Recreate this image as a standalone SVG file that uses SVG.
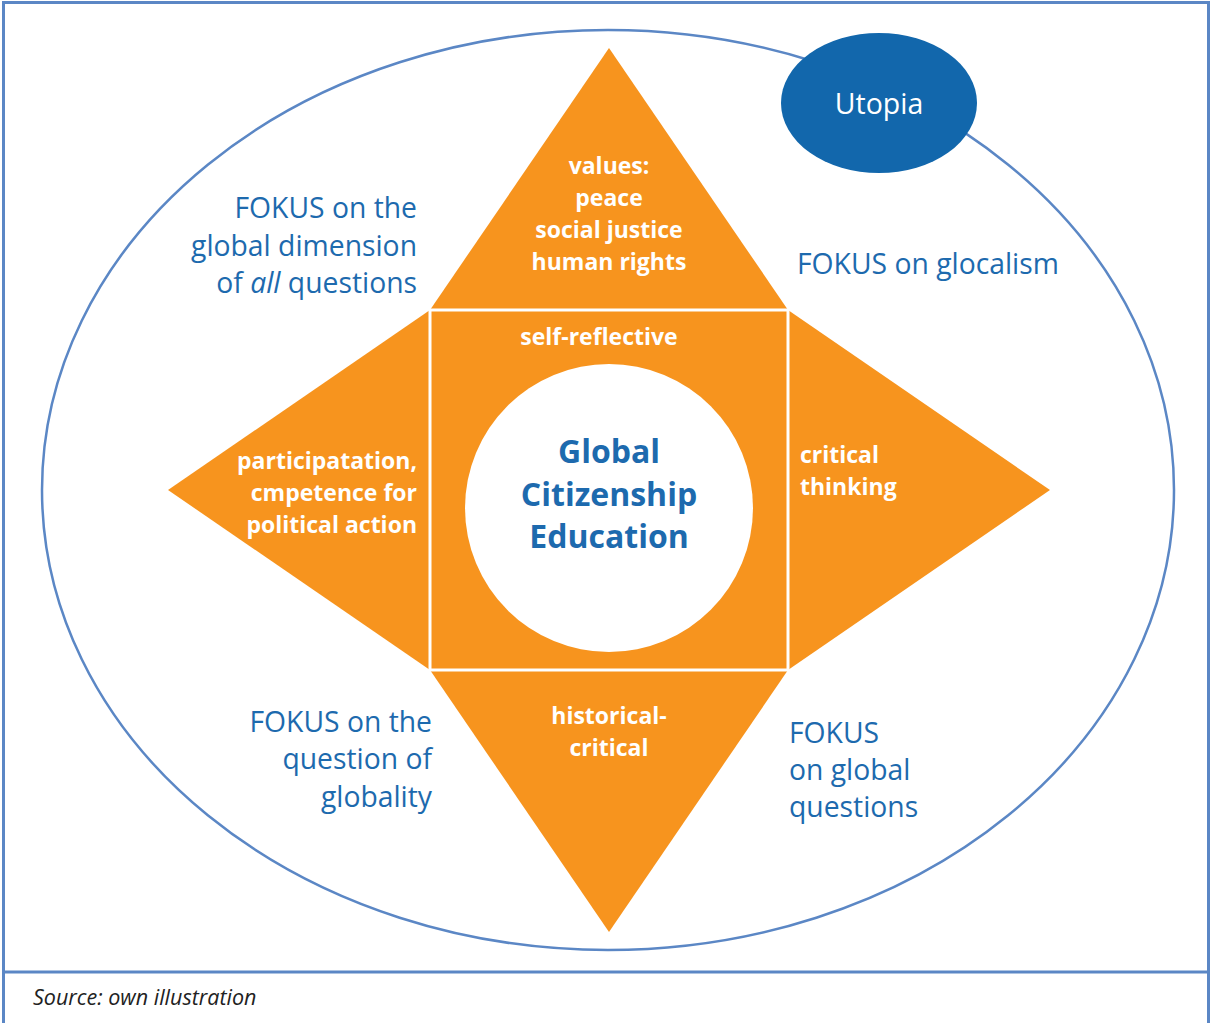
<svg xmlns="http://www.w3.org/2000/svg" width="1211" height="1023" viewBox="0 0 1211 1023">
<style>
.frame{fill:none;stroke:#5B87C5;stroke-width:3}
.orb{fill:none;stroke:#5B87C5;stroke-width:2.5}
.tri{fill:#F7941E}
.sq{fill:#F7941E;stroke:#FFFFFF;stroke-width:3}
.blue{font-family:"Open Sans","Noto Sans",sans-serif;font-size:28.3px;fill:#1D6AAE}
.wb{font-family:"Open Sans","Noto Sans",sans-serif;font-size:23px;font-weight:700;fill:#FFFFFF}
.title{font-family:"Open Sans","Noto Sans",sans-serif;font-size:32px;font-weight:700;fill:#1D6AAE}
.utopia{font-family:"Open Sans","Noto Sans",sans-serif;font-size:28.5px;fill:#FFFFFF}
.src{font-family:"Open Sans","Noto Sans",sans-serif;font-size:21.5px;font-style:italic;fill:#222222}
</style>
<rect width="1211" height="1023" fill="#FFFFFF"/>
<g id="frame">
<rect class="frame" x="3.5" y="2.5" width="1205" height="1040"/>
<line class="frame" x1="3" y1="972" x2="1209" y2="972"/>
</g>
<g id="orbit">
<ellipse class="orb" cx="608" cy="490" rx="566" ry="460"/>
</g>
<g id="utopia">
<ellipse cx="879" cy="103" rx="98" ry="70" fill="#1267AC"/>
<text class="utopia" x="879" y="114" text-anchor="middle">Utopia</text>
</g>
<g id="connectors"></g>
<g id="top-values">
<polygon class="tri" points="609,48 430,310 788,310"/>
<text class="wb" text-anchor="middle"><tspan x="609" y="174">values:</tspan><tspan x="609" y="206">peace</tspan><tspan x="609" y="238">social justice</tspan><tspan x="609" y="270">human rights</tspan></text>
</g>
<g id="left-participation">
<polygon class="tri" points="168,490 430,310 430,670"/>
<text class="wb" text-anchor="end"><tspan x="417" y="469">participatation,</tspan><tspan x="417" y="501">cmpetence for</tspan><tspan x="417" y="533">political action</tspan></text>
</g>
<g id="right-critical">
<polygon class="tri" points="1050,490 788,310 788,670"/>
<text class="wb"><tspan x="800" y="463">critical</tspan><tspan x="800" y="495">thinking</tspan></text>
</g>
<g id="bottom-historical">
<polygon class="tri" points="609,932 430,670 788,670"/>
<text class="wb" text-anchor="middle"><tspan x="609" y="724">historical-</tspan><tspan x="609" y="756">critical</tspan></text>
</g>
<g id="center">
<rect class="sq" x="430" y="310" width="358" height="360"/>
<text class="wb" x="599" y="345" text-anchor="middle">self-reflective</text>
<circle cx="609" cy="508" r="144" fill="#FFFFFF"/>
<text class="title" text-anchor="middle"><tspan x="609" y="463">Global</tspan><tspan x="609" y="506">Citizenship</tspan><tspan x="609" y="548">Education</tspan></text>
</g>
<g id="focus-global-dimension">
<text class="blue" text-anchor="end"><tspan x="417" y="218">FOKUS on the</tspan><tspan x="417" y="256">global dimension</tspan><tspan x="417" y="293">of <tspan font-style="italic">all</tspan> questions</tspan></text>
</g>
<g id="focus-glocalism">
<text class="blue" x="797" y="274">FOKUS on glocalism</text>
</g>
<g id="focus-globality">
<text class="blue" text-anchor="end"><tspan x="432" y="732">FOKUS on the</tspan><tspan x="432" y="769">question of</tspan><tspan x="432" y="807">globality</tspan></text>
</g>
<g id="focus-global-questions">
<text class="blue"><tspan x="789" y="743">FOKUS</tspan><tspan x="789" y="780">on global</tspan><tspan x="789" y="817">questions</tspan></text>
</g>
<text class="src" x="33" y="1005">Source: own illustration</text>
</svg>
